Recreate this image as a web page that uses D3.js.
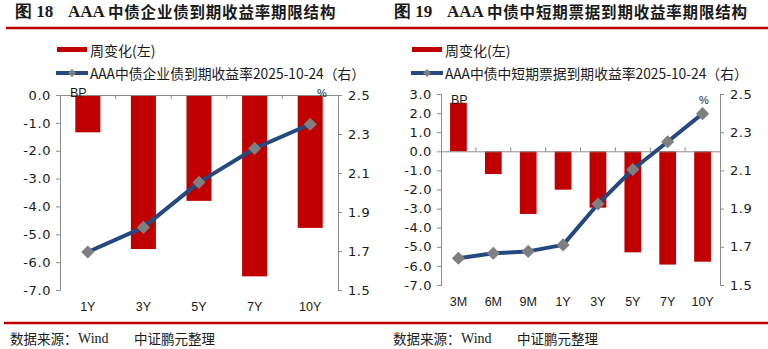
<!DOCTYPE html>
<html>
<head>
<meta charset="utf-8">
<script src="https://cdn.jsdelivr.net/npm/d3@7"></script>
<style>
  body { margin: 0; background: #fff; }
  svg { display: block; }
  text { font-family: "Noto Sans CJK SC", "DejaVu Sans", sans-serif; fill: #1a1a1a; }
</style>
</head>
<body>
<svg id="chart" width="768" height="349"></svg>
<script>
// left panel: AAA corporate bonds
let leftCats = ['1Y', '3Y', '5Y', '7Y', '10Y'];
let leftChange = [-1.34, -5.53, -3.80, -6.51, -4.77];
let leftYield = [1.695, 1.821, 2.052, 2.226, 2.350];
let leftTicks = [0, -1, -2, -3, -4, -5, -6, -7];

// right panel: AAA short-term notes
let rightCats = ['3M', '6M', '9M', '1Y', '3Y', '5Y', '7Y', '10Y'];
let rightChange = [2.54, -1.19, -3.28, -2.01, -2.95, -5.29, -5.93, -5.78];
let rightYield = [1.640, 1.666, 1.676, 1.710, 1.924, 2.105, 2.250, 2.397];
let rightTicks = [3, 2, 1, 0, -1, -2, -3, -4, -5, -6, -7];

let yieldTicks = [1.5, 1.7, 1.9, 2.1, 2.3, 2.5];

let red = '#c00000';
let blue = '#25497f';
let gray = '#7f7f7f';
let axisGray = '#8c8c8c';

let svg = d3.select('#chart');

// header and footer rules
svg.append('line')
    .attr('x1', 6).attr('x2', 768)
    .attr('y1', 28).attr('y2', 28)
    .attr('stroke', red).attr('stroke-width', 2.5);
svg.append('line')
    .attr('x1', 4).attr('x2', 768)
    .attr('y1', 323).attr('y2', 323)
    .attr('stroke', red).attr('stroke-width', 2.5);

let drawPanel = (opt) => {
    let g = svg.append('g');

    // title
    g.append('text')
        .attr('x', opt.titleX).attr('y', 17)
        .style('font-family', '"Liberation Serif", serif')
        .style('font-weight', 'bold').style('font-size', '17px')
        .text(opt.figNo);
    g.append('text')
        .attr('x', opt.titleX2).attr('y', 17)
        .style('font-family', '"Liberation Serif", serif')
        .style('font-weight', 'bold').style('font-size', '17px')
        .text('AAA');
    g.append('text')
        .attr('x', opt.titleX2 + 40).attr('y', 18)
        .style('font-weight', 'bold').style('font-size', '15.5px')
        .style('letter-spacing', '0.8px')
        .text(opt.title);

    // legend
    let lx = opt.legendX;
    g.append('rect')
        .attr('x', lx).attr('y', 47).attr('width', 30).attr('height', 5)
        .attr('fill', red);
    g.append('text')
        .attr('x', lx + 33).attr('y', 50)
        .attr('dominant-baseline', 'central')
        .style('font-size', '14px')
        .text('周变化(左)');
    g.append('line')
        .attr('x1', lx - 1).attr('x2', lx + 31)
        .attr('y1', 73).attr('y2', 73)
        .attr('stroke', blue).attr('stroke-width', 4);
    g.append('path')
        .attr('d', d3.symbol(d3.symbolDiamond2, 40)())
        .attr('transform', 'translate(' + (lx + 15) + ',73)')
        .attr('fill', gray);
    g.append('text')
        .attr('x', lx + 33).attr('y', 73)
        .attr('dominant-baseline', 'central')
        .style('font-size', '13.8px')
        .text(opt.legend2);

    // scales
    let xScale = d3.scaleBand()
        .domain(opt.cats)
        .range([opt.left, opt.right]);

    let yScale = d3.scaleLinear()
        .domain([d3.min(opt.ticks), d3.max(opt.ticks)])
        .range([opt.bottom, opt.top]);

    let y2Scale = d3.scaleLinear()
        .domain([1.5, 2.5])
        .range([opt.bottom, opt.top]);

    // bars
    let bw = xScale.bandwidth() * opt.barRatio;
    g.selectAll('rect.bar')
        .data(opt.change)
        .enter()
        .append('rect')
        .attr('class', 'bar')
        .attr('x', (d, i) => xScale(opt.cats[i]) + (xScale.bandwidth() - bw) / 2)
        .attr('width', bw)
        .attr('y', d => yScale(Math.max(0, d)))
        .attr('height', d => Math.abs(yScale(d) - yScale(0)))
        .attr('fill', red);

    // left axis
    let yAxis = d3.axisLeft(yScale)
        .tickValues(opt.ticks)
        .tickFormat(d3.format('.1f'))
        .tickSize(4).tickPadding(5);
    let ya = g.append('g')
        .attr('transform', 'translate(' + opt.left + ',0)')
        .call(yAxis);

    // right axis
    let y2Axis = d3.axisRight(y2Scale)
        .tickValues(yieldTicks)
        .tickFormat(d3.format('.1f'))
        .tickSize(4).tickPadding(6);
    let ya2 = g.append('g')
        .attr('transform', 'translate(' + opt.right + ',0)')
        .call(y2Axis);

    [ya, ya2].forEach(a => {
        a.select('.domain').attr('stroke', axisGray);
        a.selectAll('.tick line').attr('stroke', axisGray);
        a.selectAll('.tick text')
            .style('font-family', '"DejaVu Sans", sans-serif')
            .style('font-size', '13px')
            .style('letter-spacing', '0.6px')
            .attr('fill', '#1a1a1a')
            .text(d => d3.format('.1f')(d).replace('−', '-'));
    });

    // category axis at zero
    let xAxis = d3.axisBottom(xScale)
        .tickSize(0).tickPadding(0);
    let xa = g.append('g')
        .attr('transform', 'translate(0,' + yScale(0) + ')')
        .call(xAxis);
    xa.select('.domain').attr('stroke', axisGray);
    xa.selectAll('.tick text').remove();
    xa.selectAll('.tick line').remove();
    // boundary tick marks
    g.selectAll('line.bnd')
        .data(opt.cats.slice(1))
        .enter()
        .append('line')
        .attr('x1', d => xScale(d)).attr('x2', d => xScale(d))
        .attr('y1', yScale(0)).attr('y2', yScale(0) + opt.tickDir * 4)
        .attr('stroke', axisGray);

    // category labels at bottom
    g.selectAll('text.cat')
        .data(opt.cats)
        .enter()
        .append('text')
        .attr('x', d => xScale(d) + xScale.bandwidth() / 2)
        .attr('y', opt.bottom + 17)
        .attr('text-anchor', 'middle')
        .attr('dominant-baseline', 'central')
        .style('font-family', '"Liberation Sans", sans-serif')
        .style('font-size', '12.5px')
        .text(d => d);

    // unit labels
    g.append('text')
        .attr('x', opt.left + opt.bpDx).attr('y', opt.unitY)
        .style('font-family', '"Liberation Sans", sans-serif')
        .style('font-size', '12.5px')
        .text('BP');
    g.append('text')
        .attr('x', opt.right - 21).attr('y', opt.unitY)
        .style('font-family', '"Liberation Sans", sans-serif')
        .style('font-size', '11px')
        .text('%');

    // yield line
    let line = d3.line()
        .x((d, i) => xScale(opt.cats[i]) + xScale.bandwidth() / 2)
        .y(d => y2Scale(d));
    g.append('path')
        .datum(opt.yld)
        .attr('d', line)
        .attr('fill', 'none')
        .attr('stroke', blue)
        .attr('stroke-width', 4)
        .attr('stroke-linejoin', 'round');
    g.selectAll('path.mk')
        .data(opt.yld)
        .enter()
        .append('path')
        .attr('class', 'mk')
        .attr('d', d3.symbol(d3.symbolDiamond2, 110)())
        .attr('transform', (d, i) => 'translate(' + (xScale(opt.cats[i]) + xScale.bandwidth() / 2) + ',' + y2Scale(d) + ')')
        .attr('fill', gray);

    // footer
    g.append('text')
        .attr('x', opt.footX).attr('y', 338)
        .attr('dominant-baseline', 'central')
        .style('font-size', '13.5px')
        .text('数据来源：');
    g.append('text')
        .attr('x', opt.footX + 68).attr('y', 338)
        .attr('dominant-baseline', 'central')
        .style('font-family', '"Liberation Serif", serif')
        .style('font-size', '14px')
        .text('Wind');
    g.append('text')
        .attr('x', opt.footX + 124).attr('y', 338)
        .attr('dominant-baseline', 'central')
        .style('font-size', '13.5px')
        .text('中证鹏元整理');
};

drawPanel({
    figNo: '图 18', title: '中债企业债到期收益率期限结构',
    titleX: 15, titleX2: 68,
    legendX: 57, legend2: 'AAA中债企业债到期收益率2025-10-24（右）',
    cats: leftCats, change: leftChange, yld: leftYield, ticks: leftTicks,
    left: 60, right: 338, top: 95, bottom: 290,
    barRatio: 0.45, tickDir: 1, bpDx: 10, unitY: 97,
    footX: 10
});

drawPanel({
    figNo: '图 19', title: '中债中短期票据到期收益率期限结构',
    titleX: 394, titleX2: 447,
    legendX: 412, legend2: 'AAA中债中短期票据到期收益率2025-10-24（右）',
    cats: rightCats, change: rightChange, yld: rightYield, ticks: rightTicks,
    left: 441, right: 720, top: 94, bottom: 285,
    barRatio: 0.48, tickDir: -1, bpDx: 10, unitY: 104,
    footX: 393
});
</script>
</body>
</html>
